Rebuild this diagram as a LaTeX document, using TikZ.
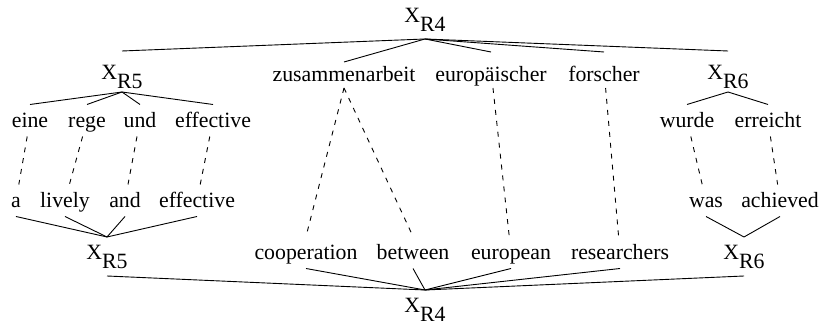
\documentclass[tikz,border=0pt]{standalone}
\usepackage{fontspec}
\setmainfont{Liberation Serif}

\newcommand{\xr}[1]{X\raisebox{-4.5pt}{#1}}

\begin{document}
\begin{tikzpicture}[
  x=0.5pt,y=-0.5pt,
  font=\fontsize{10.9}{13}\selectfont,
  wd/.style={anchor=base,inner sep=0pt,outer sep=0pt,
             text height=11.75pt,text depth=4.25pt},
  wdup/.style={wd,text height=15pt,text depth=3pt},
  xlab/.style={wd,text height=11.5pt,text depth=8pt},
  xlabup/.style={wd,text height=14.5pt,text depth=6pt},
  tree/.style={line width=0.45pt},
  link/.style={line width=0.45pt,dash pattern=on 2.5pt off 3pt}
]
\useasboundingbox (0,0) rectangle (822,324);

% ===================== source side (top) =====================
\node[xlab] (xtop) at (425,23) {\xr{R4}};

% ---- first level ----
\node[xlabup] (xr5u) at (122,80) {\xr{R5}};
\node[wdup] (zus)  at (344,82) {zusammenarbeit};
\node[wdup] (eur)  at (491,82) {europäischer};
\node[wdup] (fors) at (604,82) {forscher};
\node[xlabup] (xr6u) at (728,80) {\xr{R6}};

% ---- second level ----
\node[wd] (eine)  at (30,128)  {eine};
\node[wd] (rege)  at (87,128)  {rege};
\node[wd] (und)   at (140,128) {und};
\node[wd] (effa)  at (213,128) {effective};
\node[wd] (wurde) at (687,128) {wurde};
\node[wd] (erre)  at (768,128) {erreicht};

% ===================== target side (bottom) =====================
\node[wd] (a)    at (16,208)  {a};
\node[wd] (liv)  at (65,208)  {lively};
\node[wd] (and)  at (125,208) {and};
\node[wd] (effb) at (197,208) {effective};
\node[wd] (was)  at (706,208) {was};
\node[wd] (ach)  at (780,208) {achieved};

\node[xlab] (xr5b) at (107,260) {\xr{R5}};
\node[wd] (coop) at (306,260) {cooperation};
\node[wd] (betw) at (413,260) {between};
\node[wd] (euro) at (511,260) {european};
\node[wd] (res)  at (620,260) {researchers};
\node[xlab] (xr6b) at (744,260) {\xr{R6}};

\node[xlab] (xbot) at (425,313) {\xr{R4}};

% ---- tree edges (source) ----
\foreach \n in {xr5u,eur,fors,xr6u}
  \draw[tree] (xtop.south) -- (\n.north);
\draw[tree] (xtop.south) -- ([yshift=-5pt]zus.north);
\foreach \n in {eine,rege,und,effa}
  \draw[tree] (xr5u.south) -- (\n.north);
\foreach \n in {wurde,erre}
  \draw[tree] (xr6u.south) -- (\n.north);

% ---- tree edges (target) ----
\foreach \n in {a,liv,and,effb}
  \draw[tree] (\n.south) -- (xr5b.north);
\foreach \n in {was,ach}
  \draw[tree] (\n.south) -- (xr6b.north);
\foreach \n in {xr5b,coop,betw,euro,res,xr6b}
  \draw[tree] (\n.south) -- (xbot.north);

% ---- word alignments ----
\draw[link] (eine) -- (a);
\draw[link] (rege) -- (liv);
\draw[link] (und) -- (and);
\draw[link] (effa) -- (effb);
\draw[link] (zus.south) -- (coop.north);
\draw[link] (zus.south) -- (betw.north);
\draw[link] (eur) -- (euro);
\draw[link] (fors) -- (res);
\draw[link] (wurde) -- (was);
\draw[link] (erre) -- (ach);

\end{tikzpicture}
\end{document}
